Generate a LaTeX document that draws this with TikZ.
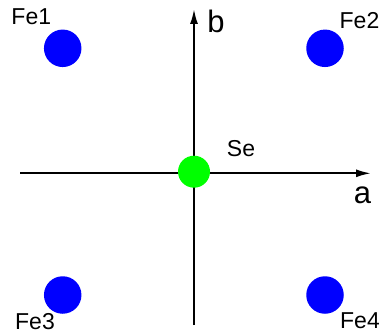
\documentclass[tikz,border=0pt]{standalone}
\usepackage{fontspec}
\setmainfont{Liberation Sans}
\usetikzlibrary{arrows.meta}
\begin{document}
\begin{tikzpicture}[x=1pt,y=-1pt,
  fe/.style={circle,fill=blue,draw=none,minimum size=37.5pt,inner sep=0pt},
  se/.style={circle,fill=green,draw=none,minimum size=32pt,inner sep=0pt},
  lbl/.style={inner sep=0pt,font=\fontsize{23}{23}\selectfont},
  axlbl/.style={inner sep=0pt,font=\fontsize{31}{31}\selectfont},
  axis/.style={line width=2pt,-{Latex[length=15pt,width=8pt]}}]
\useasboundingbox (0,0) rectangle (379,334);
\coordinate (xs) at (20,173.3);
\coordinate (xe) at (371,173.3);
\coordinate (ys) at (194,325);
\coordinate (ye) at (194,9);
\draw[axis] (xs) -- (xe);
\draw[axis] (ys) -- (ye);
\node[se] (se) at (194,171.7) {};
\node[fe] (fe1) at (62.7,48.3) {};
\node[fe] (fe2) at (325,48.3) {};
\node[fe] (fe3) at (62.7,295) {};
\node[fe] (fe4) at (325,295) {};
\node[lbl] (l1) at (31.3,17.2) {Fe1};
\node[lbl] (l2) at (359.5,20.5) {Fe2};
\node[lbl] (l3) at (35,322) {Fe3};
\node[lbl] (l4) at (360,321) {Fe4};
\node[lbl] (lse) at (241,148.5) {Se};
\node[axlbl] (lb) at (216,21.5) {b};
\node[axlbl] (la) at (362.5,195) {a};
\end{tikzpicture}
\end{document}
